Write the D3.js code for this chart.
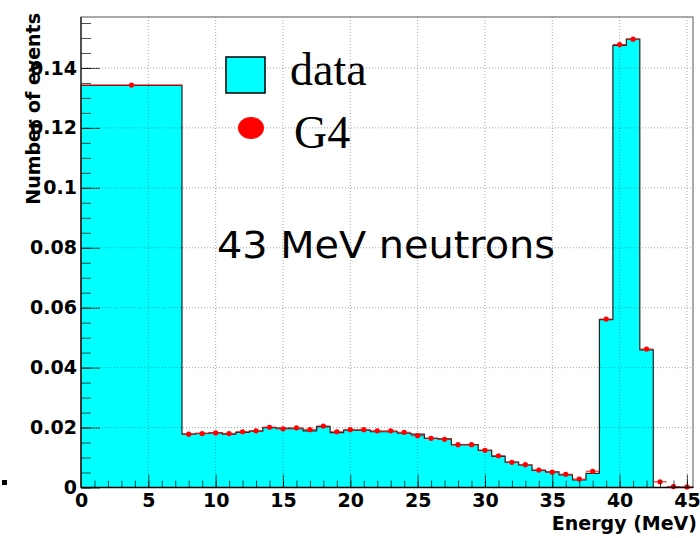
<!DOCTYPE html>
<html>
<head>
<meta charset="utf-8">
<script src="https://cdn.jsdelivr.net/npm/d3@7"></script>
<style>
  body { margin: 0; background: #fff; }
  svg { display: block; }
</style>
</head>
<body>
<div id="chart"></div>
<script>
// bin edges: one wide bin 0-7.5 then 1 MeV bins centred on integers 8..45
let binEdges = [0, 7.5].concat(d3.range(8.5, 46, 1))
let dataVals = [0.1342,
    0.0178, 0.0181, 0.0182, 0.0178, 0.0184, 0.0188, 0.0200, 0.0198, 0.0196,
    0.0189, 0.0203, 0.0183, 0.0191, 0.0191, 0.0186, 0.0186, 0.0181, 0.0178,
    0.0164, 0.0162, 0.0143, 0.0143, 0.0124, 0.0104, 0.0085, 0.0075, 0.0057,
    0.0052, 0.0042, 0.0025, 0.0047, 0.0560, 0.1475, 0.1496, 0.0459, 0, 0, 0]
let g4Vals = [0.1343,
    0.0178, 0.0180, 0.0182, 0.0180, 0.0186, 0.0189, 0.0201, 0.0196, 0.0199,
    0.0193, 0.0205, 0.0186, 0.0193, 0.0193, 0.0189, 0.0189, 0.0184, 0.0173,
    0.0164, 0.0161, 0.0143, 0.0143, 0.0124, 0.0106, 0.0084, 0.0076, 0.0058,
    0.0051, 0.0044, 0.0028, 0.0054, 0.0562, 0.1478, 0.1496, 0.0462, 0.0019, 0.0003, 0.0002]
let xTicks = d3.range(0, 46, 5)
let yTicks = [0, 0.02, 0.04, 0.06, 0.08, 0.1, 0.12, 0.14]
let legendLabels = ["data", "G4"]
let noteText = "43 MeV neutrons"

let margin = { top: 17, right: 7, bottom: 50.5, left: 81 }
let width = 700 - margin.left - margin.right
let height = 538 - margin.top - margin.bottom

let root = d3.select("#chart").append("svg")
    .attr("width", 700)
    .attr("height", 538)
let svg = root.append("g")
    .attr("transform", "translate(" + margin.left + "," + margin.top + ")")

let x = d3.scaleLinear().domain([0, 45.45]).range([0, width])
let y = d3.scaleLinear().domain([0, 0.157]).range([height, 0])

let bins = dataVals.map((v, i) => ({
    x0: binEdges[i], x1: binEdges[i + 1], data: v, g4: g4Vals[i]
}))

// data histogram: filled step area
let stepPts = [[0, 0]]
bins.forEach(b => { stepPts.push([b.x0, b.data]); stepPts.push([b.x1, b.data]) })
stepPts.push([binEdges[binEdges.length - 1], 0])
svg.append("path")
    .attr("d", d3.area().x(d => x(d[0])).y0(height).y1(d => y(d[1]))(stepPts))
    .attr("fill", "#00ffff")
svg.append("path")
    .attr("d", d3.line().x(d => x(d[0])).y(d => y(d[1]))(stepPts))
    .attr("fill", "none")
    .attr("stroke", "#222")
    .attr("stroke-width", 1.2)

// grid
let grid = svg.append("g")
grid.selectAll(".vg").data(xTicks.filter(d => d > 0)).join("line")
    .attr("x1", d => x(d)).attr("x2", d => x(d))
    .attr("y1", 0).attr("y2", height)
grid.selectAll(".hg").data(yTicks.filter(d => d > 0)).join("line")
    .attr("x1", 0).attr("x2", width)
    .attr("y1", d => y(d)).attr("y2", d => y(d))
grid.selectAll("line")
    .attr("stroke", "#000")
    .attr("stroke-opacity", 0.35)
    .attr("stroke-dasharray", "1,2")

// G4 markers with horizontal bin bars
svg.append("g").selectAll("line").data(bins).join("line")
    .attr("x1", d => x(d.x0)).attr("x2", d => x(d.x1))
    .attr("y1", d => y(d.g4)).attr("y2", d => y(d.g4))
    .attr("stroke", "#ff0000")
    .attr("stroke-width", 1.3)
    .attr("stroke-opacity", 0.75)
svg.append("g").selectAll("circle").data(bins).join("circle")
    .attr("cx", d => x((d.x0 + d.x1) / 2))
    .attr("cy", d => y(d.g4))
    .attr("r", 2.6)
    .attr("fill", "#ff0000")

// axes with inside ticks (ROOT style)
let tickStyle = g => {
    g.select(".domain").remove()
    g.selectAll(".tick line").attr("stroke", "#000").attr("stroke-opacity", 0.7)
    g.selectAll("text")
        .attr("font-family", "DejaVu Sans")
        .attr("font-weight", "bold")
        .attr("font-size", 19)
        .attr("fill", "#000")
}
let fmt = d => d === 0 ? "0" : d3.format("~g")(d)

svg.append("g")
    .call(d3.axisLeft(y).tickValues(d3.range(0, 0.156, 0.005)).tickSize(-10).tickFormat(""))
    .call(tickStyle)
svg.append("g")
    .call(d3.axisLeft(y).tickValues(yTicks).tickSize(-19).tickPadding(4).tickFormat(fmt))
    .call(tickStyle)
svg.append("g")
    .attr("transform", "translate(0," + height + ")")
    .call(d3.axisBottom(x).tickValues(d3.range(0, 46, 1)).tickSize(-7).tickFormat(""))
    .call(tickStyle)
svg.append("g")
    .attr("transform", "translate(0," + height + ")")
    .call(d3.axisBottom(x).tickValues(xTicks).tickSize(-13).tickPadding(6).tickFormat(d3.format("d")))
    .call(tickStyle)

// frame
svg.append("rect")
    .attr("width", width).attr("height", height)
    .attr("fill", "none")
    .attr("stroke", "#555")
    .attr("stroke-width", 1)
svg.append("line").attr("x1", 0).attr("x2", 0).attr("y1", 0).attr("y2", height)
    .attr("stroke", "#222").attr("stroke-width", 1.3)
svg.append("line").attr("x1", 0).attr("x2", width).attr("y1", height).attr("y2", height)
    .attr("stroke", "#000").attr("stroke-width", 1.3)

// axis titles
root.append("text")
    .attr("transform", "translate(40,13) rotate(-90)")
    .attr("text-anchor", "end")
    .attr("font-family", "DejaVu Sans")
    .attr("font-weight", "bold")
    .attr("font-size", 19)
    .text("Number of events")
root.append("text")
    .attr("x", 697).attr("y", 530)
    .attr("text-anchor", "end")
    .attr("font-family", "DejaVu Sans")
    .attr("font-weight", "bold")
    .attr("font-size", 19)
    .text("Energy (MeV)")

// legend
let leg = root.append("g")
leg.append("rect")
    .attr("x", 226).attr("y", 57).attr("width", 39).attr("height", 36)
    .attr("fill", "#00ffff").attr("stroke", "#000").attr("stroke-width", 1.5)
leg.append("ellipse")
    .attr("cx", 251).attr("cy", 128).attr("rx", 13).attr("ry", 11)
    .attr("fill", "#ff0000")
leg.selectAll("text").data(legendLabels).join("text")
    .attr("x", (d, i) => i === 0 ? 290 : 294)
    .attr("y", (d, i) => 85 + i * 63)
    .attr("font-family", "Liberation Serif, Times New Roman, serif")
    .attr("font-size", 46)
    .text(d => d)

root.append("text")
    .attr("x", 217).attr("y", 258)
    .attr("font-family", "Comic Sans MS, DejaVu Sans, sans-serif")
    .attr("font-size", 37)
    .attr("textLength", 338)
    .attr("lengthAdjust", "spacingAndGlyphs")
    .text(noteText)

root.append("rect")
    .attr("x", 2).attr("y", 480).attr("width", 5).attr("height", 5)
    .attr("fill", "#000")
</script>
</body>
</html>
